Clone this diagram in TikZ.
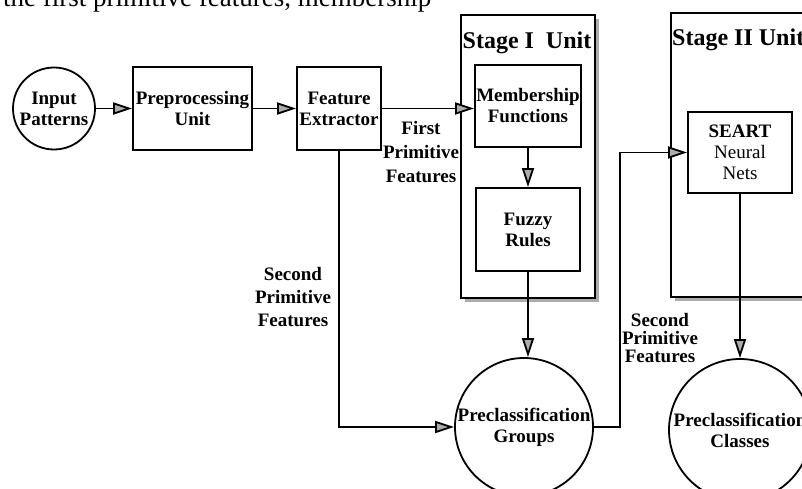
\documentclass[tikz,border=0pt]{standalone}
\usepackage{fontspec}
\setmainfont{Liberation Serif}
\usetikzlibrary{arrows.meta,shadows}

\begin{document}
\begin{tikzpicture}[x=1pt,y=-1pt,line width=1.8pt,
  >={Triangle[length=19pt,width=12pt,fill=gray!65]},
  box/.style={shape=rectangle,draw,align=center,inner sep=1pt,font=\bfseries\fontsize{19}{21}\selectfont},
  blob/.style={shape=circle,draw,align=center,inner sep=0pt,font=\bfseries\fontsize{19}{21}\selectfont},
  unit/.style={shape=rectangle,draw,fill=white,drop shadow={shadow xshift=4pt,shadow yshift=-4pt,fill=gray!65,opacity=1}},
  title/.style={font=\bfseries\fontsize{24}{26}\selectfont},
  tag/.style={align=center,font=\bfseries\fontsize{19}{23}\selectfont}]
\path [use as bounding box,clip] (0,0) rectangle (802,489);
% cut line of the page text
\node (top) at (-1,7) [anchor=base west,font=\fontsize{27}{30}\selectfont] {the first primitive features, membership};
% stage frames
\node (stage1) at (528,156.5) [unit,minimum width=134,minimum height=283] {};
\node (stage2) at (741,155) [unit,minimum width=140,minimum height=284] {};
\node (s1title) at (527,43) [title] {Stage I~~Unit};
\node (s2title) at (668,40) [title,anchor=west] {Stage II Unit};
% blocks
\node (input) at (54,108.5) [blob,minimum size=82] {Input\\Patterns};
\node (pre) at (192.5,108.5) [box,minimum width=119,minimum height=83] {Preprocessing\\Unit};
\node (fe) at (339,108.5) [box,minimum width=84,minimum height=83] {Feature\\Extractor};
\node (mem) at (528,106) [box,minimum width=106,minimum height=82] {Membership\\Functions};
\node (fuzzy) at (528,229.5) [box,minimum width=104,minimum height=83] {Fuzzy\\Rules};
\node (seart) at (740,152.5) [box,minimum width=104,minimum height=81] {SEART\\\mdseries Neural\\\mdseries Nets};
\node (groups) at (524,427) [blob,minimum size=138] {Preclassification\\Groups};
\node (classes) at (740,430) [blob,minimum size=142] {Preclassification\\Classes};
% labels
\node (first) at (421,152) [tag,font=\bfseries\fontsize{19}{24}\selectfont] {First\\Primitive\\Features};
\node (second) at (293,297) [tag] {Second\\Primitive\\Features};
\node (second2) at (660,338) [tag,font=\bfseries\fontsize{19}{18}\selectfont] {Second\\Primitive\\Features};
\coordinate (bend) at (620,428);
% connectors
\draw [->] (input) -- (pre);
\draw [->] (pre) -- (fe);
\draw [->] (fe.east) -- (fe.east -| mem.west);
\draw [->] (mem) -- (fuzzy);
\draw [->] (fuzzy.south) -- (fuzzy.south |- groups.north);
\draw [->] (fe.south) |- (groups.west);
\draw [->] (groups.east) -| (bend) |- (seart.west);
\draw [->] (seart) -- (classes);
\end{tikzpicture}
\end{document}
